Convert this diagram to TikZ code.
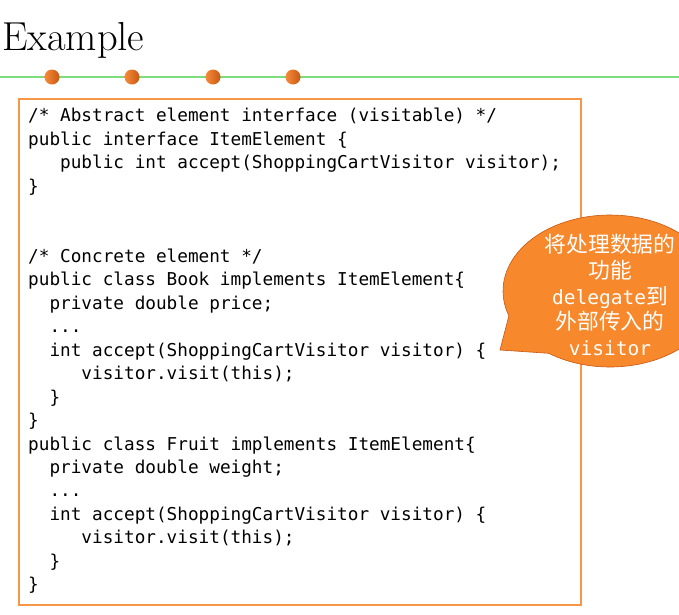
\documentclass[tikz,border=0pt]{standalone}
\usepackage{fontspec}
\usetikzlibrary{shapes.callouts}
\newfontfamily\codefont{DejaVu Sans Mono}
\newfontfamily\cjkfont{Noto Sans CJK SC}
\definecolor{boxorange}{RGB}{247,150,70}
\definecolor{bubbleorange}{RGB}{247,136,44}
\definecolor{dotlight}{RGB}{245,140,60}
\definecolor{dotdark}{RGB}{200,88,16}
\definecolor{rulegreen}{RGB}{122,222,122}

\begin{document}
\begin{tikzpicture}[x=1pt, y=-1pt,
	dot/.style={circle, minimum size=15pt, inner sep=0, left color=dotlight, right color=dotdark},
	codetext/.style={font=\codefont\fontsize{17.7}{23.45}\selectfont, align=left, inner sep=0}]
	\useasboundingbox (0,0) rectangle (679,614);
	% title and rule
	\node[anchor=base west, inner sep=0, font=\fontsize{40.5}{42}\selectfont] (title) at (2,50) {Example};
	\coordinate (rule_l) at (0,77);
	\coordinate (rule_r) at (679,77);
	\draw[rulegreen, line width=1.8pt] (rule_l) -- (rule_r);
	\foreach \x [count=\i] in {52,132,213,293}
		\node[dot] (dot\i) at (\x,77) {};
	% code listing
	\node[draw=boxorange, line width=1.5pt, minimum width=562pt, minimum height=506pt, anchor=north west] (code_box) at (18,98) {};
	\node[codetext, anchor=north west] (code) at (28,108) {%
		/* Abstract element interface (visitable) */\\
		public interface ItemElement \{\\
		\ \ \ public int accept(ShoppingCartVisitor visitor);\\
		\}\\
		\mbox{}\\
		\mbox{}\\
		/* Concrete element */\\
		public class Book implements ItemElement\{\\
		\ \ private double price;\\
		\ \ ...\\
		\ \ int accept(ShoppingCartVisitor visitor) \{\\
		\ \ \ \ \ visitor.visit(this);\\
		\ \ \}\\
		\}\\
		public class Fruit implements ItemElement\{\\
		\ \ private double weight;\\
		\ \ ...\\
		\ \ int accept(ShoppingCartVisitor visitor) \{\\
		\ \ \ \ \ visitor.visit(this);\\
		\ \ \}\\
		\}};
	% callout
	\coordinate (tip) at (500,350);
	\node[ellipse callout, draw=dotdark, fill=bubbleorange, line width=0.6pt, minimum width=214pt, minimum height=152pt, inner sep=0, callout absolute pointer=(tip), callout pointer arc=36] (bubble) at (610,291) {};
	\node[text=white, align=center, inner sep=0, font=\cjkfont\fontsize{21.8}{25.7}\selectfont] (bubble_text) at (610,295) {%
		将处理数据的\\功能\\{\codefont\fontsize{19.5}{25.7}\selectfont delegate}到\\外部传入的\\{\codefont\fontsize{19.5}{25.7}\selectfont visitor}};
\end{tikzpicture}
\end{document}
